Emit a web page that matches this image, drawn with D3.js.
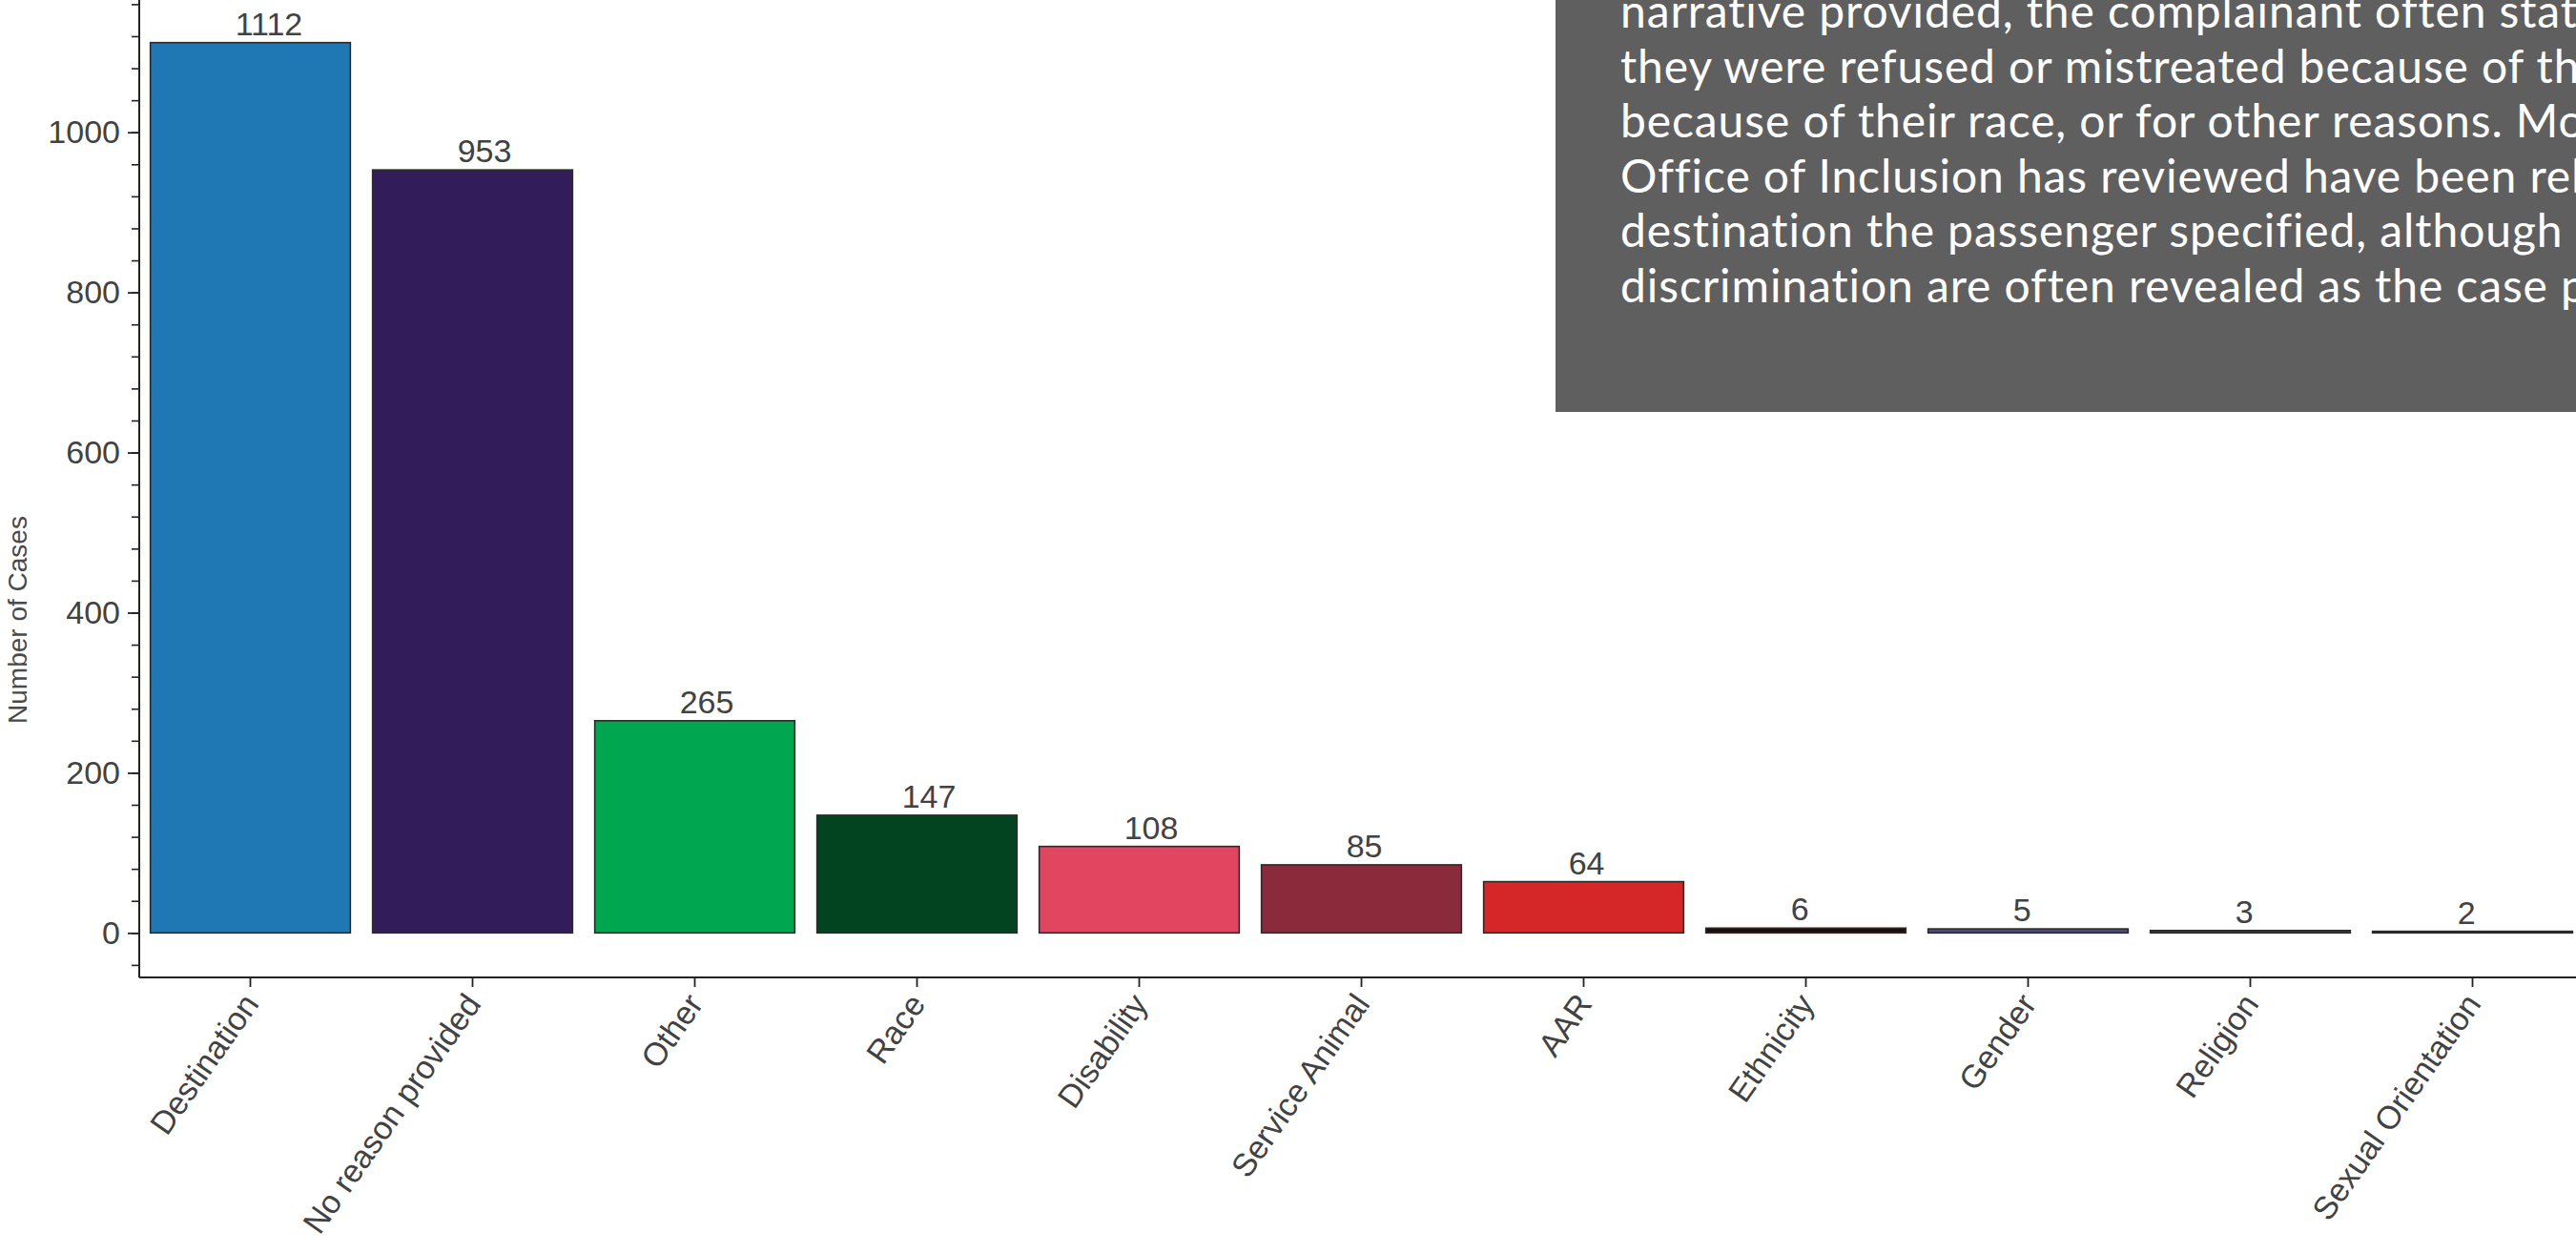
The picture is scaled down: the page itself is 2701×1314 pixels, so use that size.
<!DOCTYPE html>
<html>
<head>
<meta charset="utf-8">
<script src="https://cdn.jsdelivr.net/npm/d3@7"></script>
<style>
  html, body { margin: 0; padding: 0; background: #ffffff; overflow: hidden; }
  svg { display: block; }
</style>
</head>
<body>
<svg id="chart" width="2701" height="1314"></svg>
<script>
// Complaint reasons and case counts
const categories = ["Destination", "No reason provided", "Other", "Race", "Disability",
  "Service Animal", "AAR", "Ethnicity", "Gender", "Religion", "Sexual Orientation"];
const counts = [1112, 953, 265, 147, 108, 85, 64, 6, 5, 3, 2];
const barColors = ["#1f77b4", "#331c5a", "#00a650", "#01441f", "#e1455f", "#8b2a3a",
  "#d62728", "#1e0c0c", "#4a4a8c", "#3b3840", "#3c3c3c"];
const yTickValues = [0, 200, 400, 600, 800, 1000];
const yLabel = "Number of Cases";
const noteLines = [
  "narrative provided, the complainant often stated",
  "they were refused or mistreated because of their",
  "because of their race, or for other reasons. Most",
  "Office of Inclusion has reviewed have been related",
  "destination the passenger specified, although other",
  "discrimination are often revealed as the case proceeds."
];

const svg = d3.select("#chart");
const plotLeft = 146, plotRight = 2709, plotTop = -2, plotBottom = 1025;
const textColor = "#424242";
const axisColor = "#222";

const maxV = d3.max(counts);
const y = d3.scaleLinear()
  .domain([-0.05 * maxV, 1.05 * maxV])
  .range([plotBottom, plotTop]);

const x = d3.scaleBand()
  .domain(categories)
  .range([plotLeft, plotRight])
  .paddingInner(0.1)
  .paddingOuter(0.05);

// Bars
svg.append("g").selectAll("rect")
  .data(categories)
  .join("rect")
  .attr("x", d => x(d))
  .attr("width", x.bandwidth())
  .attr("y", (d, i) => y(counts[i]))
  .attr("height", (d, i) => y(0) - y(counts[i]))
  .attr("fill", (d, i) => barColors[i])
  .attr("stroke", "#2a2a2a")
  .attr("stroke-width", 1.6);

// Value labels: left-aligned a little before each bar's centre
svg.append("g").selectAll("text")
  .data(categories)
  .join("text")
  .attr("x", d => x(d) + x.bandwidth() / 2 - x.step() * 0.068)
  .attr("y", (d, i) => y(counts[i]) - 8)
  .attr("text-anchor", "start")
  .attr("font-family", "Liberation Sans, Arial, sans-serif")
  .attr("font-size", 34)
  .attr("fill", textColor)
  .text((d, i) => counts[i]);

// Y axis: major ticks with labels, minor ticks every 40
const minorTicks = d3.range(-40, 1161, 40);
const yAxisMinor = d3.axisLeft(y).tickValues(minorTicks).tickSize(8).tickFormat("");
const gMinor = svg.append("g").attr("transform", `translate(${plotLeft},0)`).call(yAxisMinor);
gMinor.select(".domain").remove();
gMinor.selectAll("line").attr("stroke", axisColor).attr("stroke-width", 1.6);

const yAxis = d3.axisLeft(y).tickValues(yTickValues).tickSize(12).tickPadding(8).tickFormat(d3.format("d"));
const gY = svg.append("g").attr("transform", `translate(${plotLeft},0)`).call(yAxis);
gY.select(".domain").remove();
gY.selectAll("line").attr("stroke", axisColor).attr("stroke-width", 1.8);
gY.selectAll("text")
  .attr("font-family", "Liberation Sans, Arial, sans-serif")
  .attr("font-size", 34)
  .attr("fill", textColor);

svg.append("line")
  .attr("x1", plotLeft).attr("x2", plotLeft)
  .attr("y1", y.range()[1]).attr("y2", plotBottom)
  .attr("stroke", axisColor).attr("stroke-width", 2);

// X axis
const xAxis = d3.axisBottom(x).tickSize(10).tickFormat("");
const gX = svg.append("g").attr("transform", `translate(0,${plotBottom})`).call(xAxis);
gX.select(".domain").remove();
gX.selectAll("line").attr("stroke", axisColor).attr("stroke-width", 1.8);
svg.append("line")
  .attr("x1", plotLeft).attr("x2", plotRight)
  .attr("y1", plotBottom).attr("y2", plotBottom)
  .attr("stroke", axisColor).attr("stroke-width", 2);

// Rotated category labels
svg.append("g").selectAll("text")
  .data(categories)
  .join("text")
  .attr("transform", d => `translate(${x(d) + x.bandwidth() / 2 + 10},${plotBottom + 28}) rotate(-55)`)
  .attr("text-anchor", "end")
  .attr("font-family", "Liberation Sans, Arial, sans-serif")
  .attr("font-size", 34)
  .attr("fill", textColor)
  .text(d => d);

// Y axis title
svg.append("text")
  .attr("transform", "translate(28,650) rotate(-90)")
  .attr("text-anchor", "middle")
  .attr("font-family", "Liberation Sans, Arial, sans-serif")
  .attr("font-size", 28)
  .attr("fill", "#4a4a4a")
  .text(yLabel);

// Explanatory note panel (runs off the right edge of the figure)
const note = svg.append("g");
note.append("rect")
  .attr("x", 1631).attr("y", -10)
  .attr("width", 1100).attr("height", 442)
  .attr("fill", "#5f5f5f");
note.selectAll("text")
  .data(noteLines)
  .join("text")
  .attr("x", 1699)
  .attr("y", (d, i) => 29 + i * 57.6)
  .attr("font-family", "Lato, sans-serif")
  .attr("font-size", 48)
  .attr("letter-spacing", 0.9)
  .attr("fill", "#ffffff")
  .text(d => d);
</script>
</body>
</html>
